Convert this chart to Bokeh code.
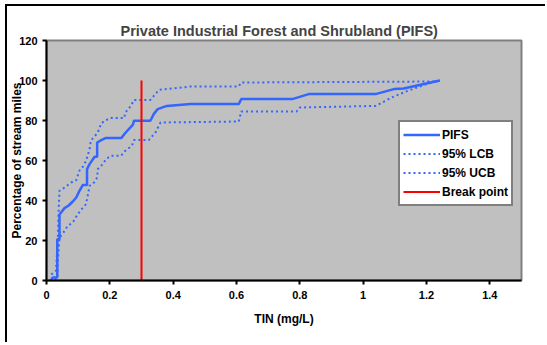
from bokeh.plotting import figure
from bokeh.models import FixedTicker, Legend, LegendItem, Range1d
from bokeh.embed import file_html
from bokeh.resources import INLINE

# ---- data ----
pifs_x = [0.015, 0.02, 0.034, 0.034, 0.041, 0.041, 0.057, 0.07, 0.083, 0.094, 0.104, 0.115,
          0.128, 0.128, 0.136, 0.152, 0.16, 0.16, 0.173, 0.186, 0.236, 0.25, 0.273, 0.276,
          0.328, 0.339, 0.351, 0.38, 0.455, 0.607, 0.615, 0.776, 0.828, 1.039, 1.097, 1.128, 1.242]
pifs_y = [0.6, 1.5, 1.5, 20.6, 20.6, 33.0, 36.2, 37.5, 39.5, 41.5, 44.8, 47.8,
          47.8, 55.7, 58.2, 61.9, 61.9, 69.0, 70.2, 71.2, 71.2, 74.0, 77.9, 79.9,
          79.9, 83.3, 85.7, 87.3, 88.2, 88.2, 90.7, 90.7, 93.2, 93.2, 95.7, 96.0, 100.0]

lcb_x = [0.01, 0.034, 0.036, 0.041, 0.057, 0.067, 0.083, 0.099, 0.115, 0.125, 0.13, 0.136,
         0.15, 0.16, 0.162, 0.178, 0.188, 0.204, 0.236, 0.246, 0.27, 0.276, 0.323, 0.344,
         0.36, 0.607, 0.615, 0.79, 0.8, 1.04, 1.09, 1.14, 1.2, 1.242]
lcb_y = [0.0, 1.0, 10.0, 21.4, 24.8, 27.3, 29.0, 33.2, 36.5, 38.2, 42.3, 47.3,
         49.0, 51.5, 55.7, 58.2, 60.7, 62.4, 62.4, 64.5, 67.4, 70.2, 70.2, 74.0,
         79.0, 79.5, 84.5, 84.5, 86.5, 87.3, 91.5, 94.8, 98.2, 100.0]

ucb_x = [0.015, 0.03, 0.036, 0.038, 0.041, 0.057, 0.078, 0.094, 0.104, 0.115, 0.125, 0.136,
         0.14, 0.162, 0.173, 0.188, 0.204, 0.246, 0.248, 0.267, 0.276, 0.328, 0.355,
         0.455, 0.607, 0.615, 1.233, 1.242]
ucb_y = [3.0, 5.0, 21.6, 33.0, 44.8, 46.5, 49.0, 50.2, 54.9, 56.9, 59.9, 65.7,
         69.9, 74.0, 78.6, 80.2, 81.3, 81.3, 83.8, 87.4, 90.3, 90.3, 95.3,
         97.0, 97.0, 99.0, 99.5, 100.0]

break_x = [0.3, 0.3]
break_y = [0, 100]

x_ticks = [0, 0.2, 0.4, 0.6, 0.8, 1.0, 1.2, 1.4]
x_tick_labels = ["0", "0.2", "0.4", "0.6", "0.8", "1", "1.2", "1.4"]
y_ticks = [0, 20, 40, 60, 80, 100, 120]

title_text = "Private Industrial Forest and  Shrubland (PIFS)"
x_label = "TIN (mg/L)"
y_label = "Percentage of stream miles"
series_names = ["PIFS", "95% LCB", "95% UCB", "Break point"]

BLUE = "#3366FF"
RED = "#FF0000"
FONT = "Liberation Sans"

p = figure(frame_width=475, frame_height=240, output_backend="svg", toolbar_location=None,
           x_range=Range1d(0, 1.5), y_range=Range1d(0, 120),
           min_border_left=39, min_border_right=24, min_border_top=34, min_border_bottom=62,
           background_fill_color="#C0C0C0", border_fill_color="white",
           outline_line_color="#808080", outline_line_width=2,
           styles={"margin-left": "5px", "margin-top": "4px",
                   "border-left": "2px solid black", "border-top": "2px solid black"})

p.title.text = title_text
p.title.text_font = FONT
p.title.text_font_size = "14.5px"
p.title.text_font_style = "bold"
p.title.align = "left"
p.title.offset = 74
p.title.standoff = 3

p.grid.visible = False

for ax in (p.xaxis[0], p.yaxis[0]):
    ax.axis_line_width = 2
    ax.axis_line_color = "black"
    ax.major_tick_line_width = 2
    ax.major_tick_line_color = "black"
    ax.major_tick_in = 0
    ax.major_tick_out = 4
    ax.minor_tick_line_color = None
    ax.major_label_text_font = FONT
    ax.major_label_text_font_size = "11px"
    ax.major_label_text_font_style = "bold"
    ax.major_label_text_color = "black"
    ax.axis_label_text_font = FONT
    ax.axis_label_text_font_size = "12px"
    ax.axis_label_text_font_style = "bold"
    ax.axis_label_text_color = "black"

p.xaxis[0].ticker = FixedTicker(ticks=x_ticks)
p.xaxis[0].major_label_overrides = {t: l for t, l in zip(x_ticks, x_tick_labels)}
p.xaxis[0].axis_label = x_label
p.xaxis[0].major_label_standoff = 6
p.xaxis[0].axis_label_standoff = 10

p.yaxis[0].ticker = FixedTicker(ticks=y_ticks)
p.yaxis[0].axis_label = y_label
p.yaxis[0].major_label_standoff = 5
p.yaxis[0].axis_label_standoff = -8

r_lcb = p.line(lcb_x, lcb_y, line_color=BLUE, line_width=2, line_dash="2 3")
r_ucb = p.line(ucb_x, ucb_y, line_color=BLUE, line_width=2, line_dash="2 3")
r_main = p.line(pifs_x, pifs_y, line_color=BLUE, line_width=2.5)
r_break = p.line(break_x, break_y, line_color=RED, line_width=2)

legend = Legend(items=[LegendItem(label=series_names[0], renderers=[r_main]),
                       LegendItem(label=series_names[1], renderers=[r_lcb]),
                       LegendItem(label=series_names[2], renderers=[r_ucb]),
                       LegendItem(label=series_names[3], renderers=[r_break])],
                location=(352, 74), margin=0, padding=3, spacing=0,
                glyph_width=37, glyph_height=19, label_height=19, label_standoff=2,
                label_text_font=FONT, label_text_font_size="12px",
                label_text_font_style="bold", label_text_color="black",
                border_line_color="black", border_line_width=2,
                background_fill_color="white", background_fill_alpha=1.0)
p.add_layout(legend, "center")

open("out.html", "w").write(file_html(p, INLINE))
